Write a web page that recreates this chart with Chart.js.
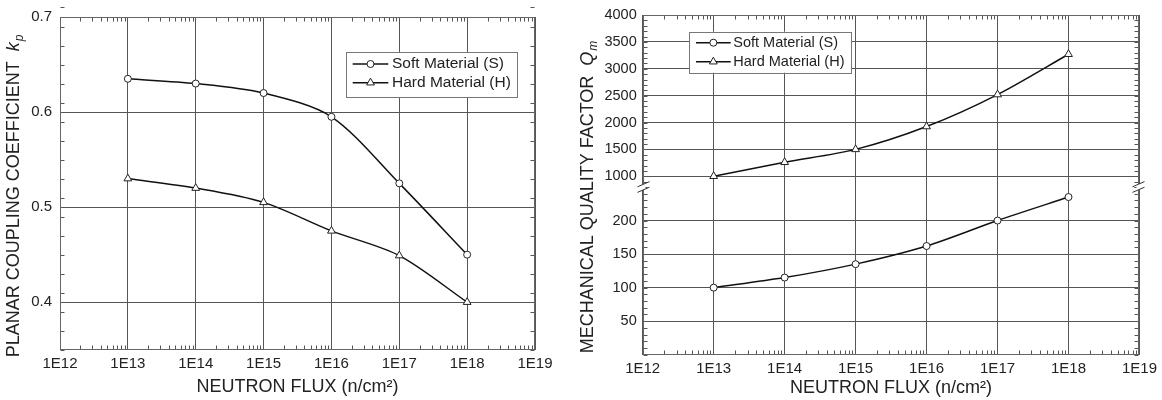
<!DOCTYPE html>
<html>
<head>
<meta charset="utf-8">
<script src="https://cdn.jsdelivr.net/npm/chart.js@4.4.1/dist/chart.umd.min.js"></script>
<style>
  html, body { margin: 0; padding: 0; background: #fff; }
  #wrap { position: relative; width: 1162px; height: 400px; }
  canvas { position: absolute; top: 0; }
  #kp { left: 0; }
  #qm { left: 560px; }
</style>
</head>
<body>
<div id="wrap">
  <canvas id="kp" width="560" height="400"></canvas>
  <canvas id="qm" width="602" height="400"></canvas>
</div>
<script>
// Neutron fluence levels (n/cm^2) and axis decades
const flux = [1e13, 1e14, 1e15, 1e16, 1e17, 1e18];
const fluxTicks = [1e12, 1e13, 1e14, 1e15, 1e16, 1e17, 1e18, 1e19];

// Planar coupling coefficient k_p
const kpSoft = [0.635, 0.630, 0.620, 0.595, 0.525, 0.450];
const kpHard = [0.530, 0.520, 0.505, 0.475, 0.449, 0.400];
const kpTicks = [0.4, 0.5, 0.6, 0.7];

// Mechanical quality factor Q_m (broken axis: low band for soft, high band for hard)
const qmSoft = [100, 115, 135, 162, 200, 235];
const qmHard = [1000, 1260, 1500, 1925, 2520, 3270];
const qmLowTicks = [50, 100, 150, 200];
const qmHighTicks = [1000, 1500, 2000, 2500, 3000, 3500, 4000];

const seriesNames = ['Soft Material (S)', 'Hard Material (H)'];

const FONT = '"Liberation Sans", Arial, Helvetica, sans-serif';
const INK = '#222';
const GRID = '#555';

function series(label, ys, style, yAxisID) {
  return {
    label,
    data: flux.map((x, i) => ({ x, y: ys[i] })),
    yAxisID,
    borderColor: '#111',
    borderWidth: 1.5,
    pointStyle: style,
    pointRadius: style === 'triangle' ? 4.5 : 3.5,
    pointBackgroundColor: '#fff',
    pointBorderColor: '#222',
    pointBorderWidth: 1,
    tension: 0.3,
    fill: false
  };
}

function fluxAxis(height, titlePad) {
  return {
    type: 'logarithmic',
    min: 1e12,
    max: 1e19,
    afterBuildTicks: s => { s.ticks = fluxTicks.map(v => ({ value: v })); },
    afterFit: s => { s.height = height; },
    ticks: {
      autoSkip: false, maxRotation: 0, padding: 5, color: INK,
      font: { family: FONT, size: 15 },
      callback: v => '1E' + Math.round(Math.log10(v))
    },
    grid: { color: GRID, lineWidth: 1, drawTicks: false },
    border: { display: false },
    title: {
      display: true, text: 'NEUTRON FLUX (n/cm²)', color: INK,
      font: { family: FONT, size: 18 },
      padding: { top: 0, bottom: titlePad }
    }
  };
}

function valueAxis(opts) {
  return Object.assign({
    type: 'linear',
    position: 'left',
    afterFit: s => { s.width = opts.width; },
    afterBuildTicks: s => { s.ticks = opts.tickValues.map(v => ({ value: v })); },
    ticks: {
      autoSkip: false, padding: opts.pad, color: INK,
      font: { family: FONT, size: opts.fontSize },
      callback: opts.fmt
    },
    grid: { color: GRID, lineWidth: 1, drawTicks: false },
    border: { display: false }
  }, opts.extra);
}

// Frame, inward minor ticks, axis break, rotated y title and boxed legend
const decorations = {
  id: 'deco',
  beforeDatasetsDraw(chart, args, o) {
    const { ctx, chartArea: a } = chart;
    const L = Math.round(a.left) + 0.5, R = Math.round(a.right) - 0.5;
    const T = Math.round(a.top) + 0.5, B = Math.round(a.bottom) - 0.5;
    ctx.save();
    ctx.strokeStyle = '#555';
    ctx.lineWidth = 1;
    ctx.beginPath();
    // x minor ticks at 2..9 of each decade
    const xs = chart.scales.x;
    for (let d = 12; d < 19; d++) {
      for (let m = 2; m <= 9; m++) {
        const px = Math.round(xs.getPixelForValue(m * Math.pow(10, d))) + 0.5;
        ctx.moveTo(px, B); ctx.lineTo(px, B - 4);
        ctx.moveTo(px, T); ctx.lineTo(px, T + 4);
      }
    }
    // y minor ticks
    o.minor.forEach(([id, step]) => {
      const s = chart.scales[id];
      const n = Math.round((s.max - s.min) / step);
      for (let i = 0; i <= n; i++) {
        const py = Math.round(s.getPixelForValue(s.min + i * step)) + 0.5;
        ctx.moveTo(L, py); ctx.lineTo(L + 4, py);
        ctx.moveTo(R, py); ctx.lineTo(R - 4, py);
      }
    });
    ctx.stroke();
    // frame
    ctx.strokeStyle = '#666';
    ctx.strokeRect(L, T, R - L, B - T);
    // axis break marks
    if (o.breakAxis) {
      const yb = chart.scales[o.breakAxis].bottom;
      [L, R].forEach(x => {
        ctx.fillStyle = '#fff';
        ctx.fillRect(x - 2, yb - 3, 4, 6);
        ctx.strokeStyle = '#333';
        ctx.beginPath();
        [-2.8, 2.8].forEach(off => {
          ctx.moveTo(x - 6, yb + off + 2.6);
          ctx.lineTo(x + 6, yb + off - 2.6);
        });
        ctx.stroke();
      });
    }
    ctx.restore();
  },
  afterDraw(chart, args, o) {
    const ctx = chart.ctx;
    ctx.save();
    // rotated y-axis title with italic symbol and subscript
    const t = o.yTitle;
    ctx.translate(t.x, t.cy);
    ctx.rotate(-Math.PI / 2);
    const fMain = `18px ${FONT}`, fSym = `italic 18px ${FONT}`, fSub = `italic 12px ${FONT}`;
    ctx.font = fMain; const w1 = ctx.measureText(t.text).width;
    ctx.font = fSym; const w2 = ctx.measureText(t.sym).width;
    ctx.font = fSub; const w3 = ctx.measureText(t.sub).width;
    const x0 = -(w1 + w2 + 1 + w3) / 2;
    ctx.fillStyle = INK;
    ctx.textAlign = 'left';
    ctx.textBaseline = 'alphabetic';
    ctx.font = fMain; ctx.fillText(t.text, x0, 0);
    ctx.font = fSym; ctx.fillText(t.sym, x0 + w1, 0);
    ctx.font = fSub; ctx.fillText(t.sub, x0 + w1 + w2 + 1, 4);
    ctx.restore();

    // legend box
    const lg = o.legend;
    ctx.save();
    ctx.fillStyle = '#fff';
    ctx.fillRect(lg.box[0], lg.box[1], lg.box[2] - lg.box[0], lg.box[3] - lg.box[1]);
    ctx.strokeStyle = '#777';
    ctx.lineWidth = 1;
    ctx.strokeRect(Math.round(lg.box[0]) + 0.5, Math.round(lg.box[1]) + 0.5,
      Math.round(lg.box[2] - lg.box[0]), Math.round(lg.box[3] - lg.box[1]));
    chart.data.datasets.forEach((ds, i) => {
      const y = lg.rows[i];
      ctx.strokeStyle = '#111';
      ctx.lineWidth = 1.5;
      ctx.beginPath();
      ctx.moveTo(lg.line[0], y); ctx.lineTo(lg.line[1], y);
      ctx.stroke();
      ctx.fillStyle = '#fff';
      ctx.strokeStyle = '#222';
      ctx.lineWidth = 1;
      Chart.helpers.drawPoint(ctx, { pointStyle: ds.pointStyle, radius: ds.pointRadius, borderWidth: 1, rotation: 0 },
        (lg.line[0] + lg.line[1]) / 2, y);
      ctx.fillStyle = INK;
      ctx.font = `${lg.fontSize}px ${FONT}`;
      ctx.textAlign = 'left';
      ctx.textBaseline = 'middle';
      ctx.fillText(ds.label, lg.textX, y);
    });
    ctx.restore();
  }
};

const baseOptions = {
  responsive: false,
  animation: false,
  devicePixelRatio: 1,
  events: []
};

// Planar coupling coefficient chart
new Chart(document.getElementById('kp'), {
  type: 'line',
  data: {
    datasets: [
      series(seriesNames[0], kpSoft, 'circle', 'y'),
      series(seriesNames[1], kpHard, 'triangle', 'y')
    ]
  },
  options: Object.assign({}, baseOptions, {
    layout: { padding: { top: 15, right: 25, left: 0, bottom: 0 } },
    scales: {
      x: fluxAxis(50.3, 2.5),
      y: valueAxis({
        width: 60, pad: 8, fontSize: 15, tickValues: kpTicks,
        fmt: v => v.toFixed(1),
        extra: { min: 0.35, max: 0.7 }
      })
    },
    plugins: {
      legend: { display: false },
      tooltip: { enabled: false },
      deco: {
        minor: [['y', 0.02]],
        yTitle: { x: 18.5, cy: 196, text: 'PLANAR COUPLING COEFFICIENT  ', sym: 'k', sub: 'p' },
        legend: { box: [346, 52, 517, 97], rows: [64, 82.7], line: [352.7, 388.3], textX: 392, fontSize: 15.5 }
      }
    }
  }),
  plugins: [decorations]
});

// Mechanical quality factor chart with a broken value axis
new Chart(document.getElementById('qm'), {
  type: 'line',
  data: {
    datasets: [
      series(seriesNames[0], qmSoft, 'circle', 'yLow'),
      series(seriesNames[1], qmHard, 'triangle', 'yHigh')
    ]
  },
  options: Object.assign({}, baseOptions, {
    layout: { padding: { top: 15, right: 19.3, left: 0, bottom: 0 } },
    scales: {
      x: fluxAxis(45.3, 1.2),
      yLow: valueAxis({
        width: 82.7, pad: 6, fontSize: 14.5, tickValues: qmLowTicks,
        fmt: v => String(v),
        extra: { min: 0, max: 250, stack: 'qm', stackWeight: 167.7, weight: 0 }
      }),
      yHigh: valueAxis({
        width: 82.7, pad: 6, fontSize: 14.5, tickValues: qmHighTicks,
        fmt: v => String(v),
        extra: { min: 800, max: 4000, stack: 'qm', stackWeight: 172, weight: 1 }
      })
    },
    plugins: {
      legend: { display: false },
      tooltip: { enabled: false },
      deco: {
        minor: [['yLow', 10], ['yHigh', 100]],
        breakAxis: 'yHigh',
        yTitle: { x: 33.3, cy: 197, text: 'MECHANICAL QUALITY FACTOR  ', sym: 'Q', sub: 'm' },
        legend: { box: [129.3, 31.7, 291.7, 72.7], rows: [42.7, 61.7], line: [136, 170.7], textX: 173.3, fontSize: 14.5 }
      }
    }
  }),
  plugins: [decorations]
});
</script>
</body>
</html>
